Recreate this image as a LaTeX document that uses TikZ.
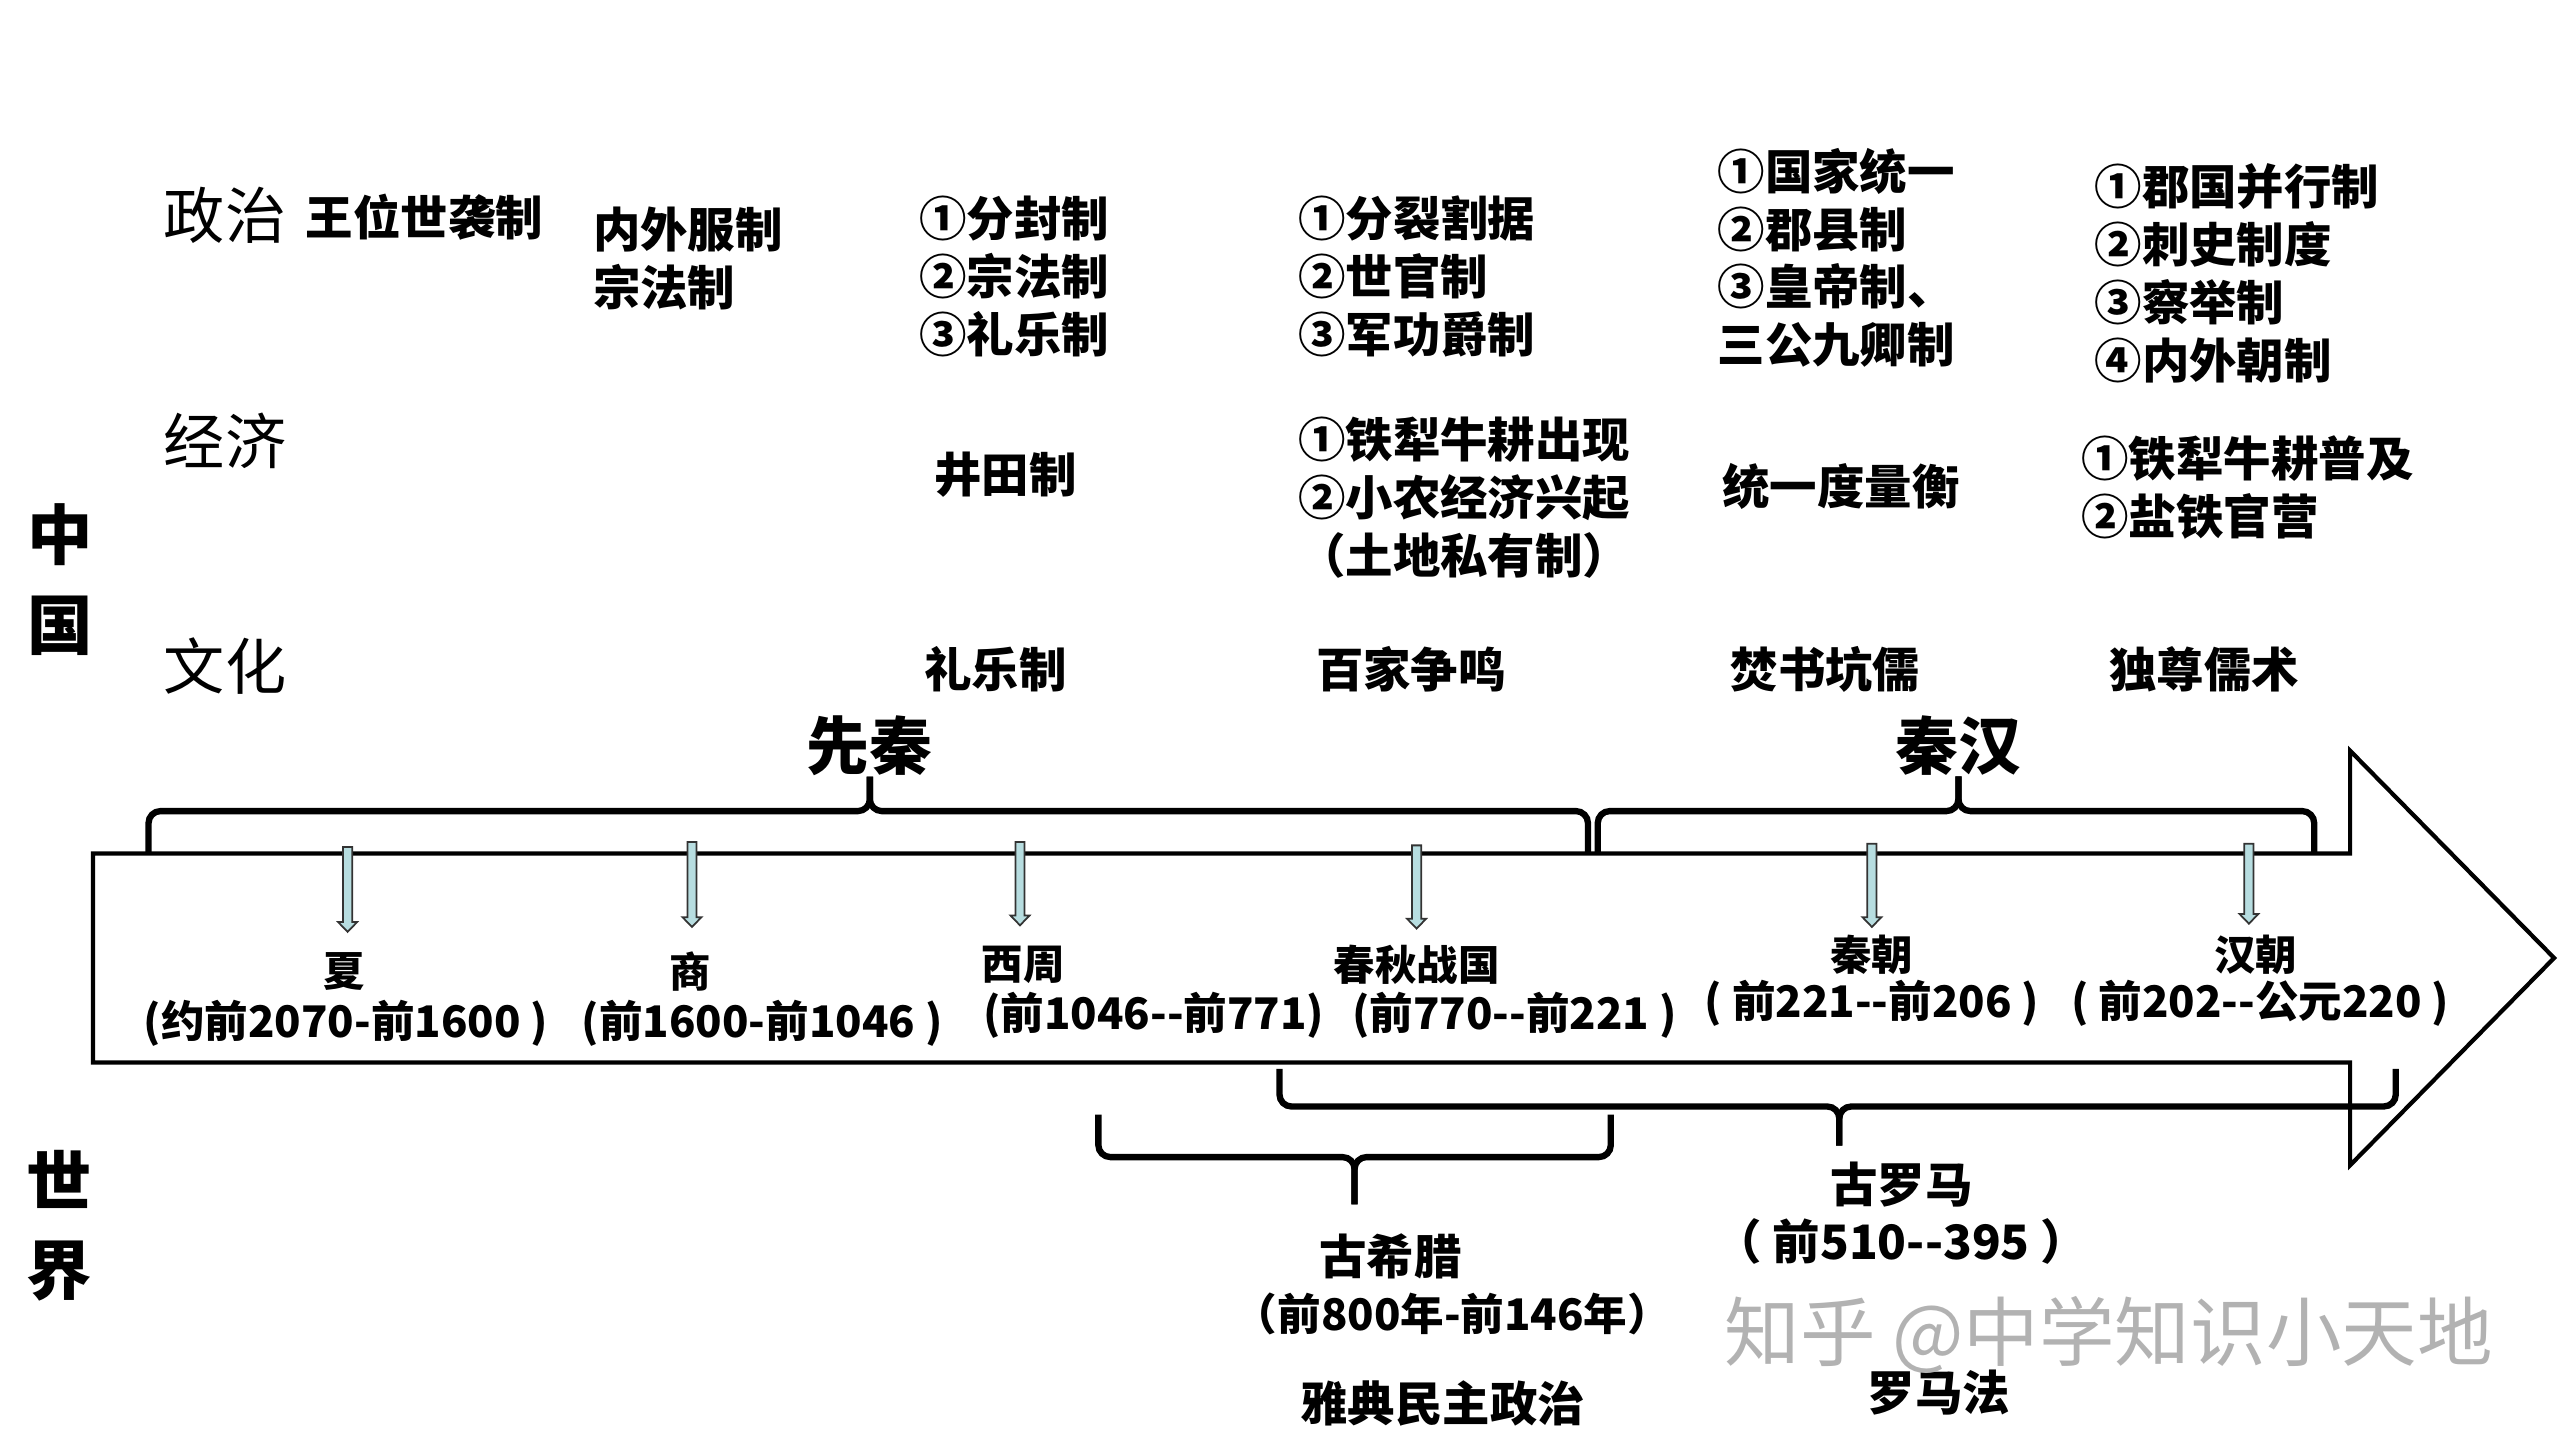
\documentclass[tikz,border=0pt]{standalone}
\usepackage{fontspec}
\setmainfont{Noto Sans CJK SC}
\usetikzlibrary{positioning}
\definecolor{pointerblue}{RGB}{183,221,224}
\newcommand{\dd}{-\kern0pt-}

\begin{document}
\begin{tikzpicture}
[x=0.01632cm, y=-0.01632cm,
 rowhead/.style={anchor=west,inner sep=0pt,font=\fontsize{17.4}{20}\selectfont},
 country/.style={inner sep=0pt,align=center,font=\fontsize{18.6}{25.5}\selectfont\bfseries},
 item/.style={anchor=west,inner sep=0pt,align=left,font=\fontsize{13.5}{16.5}\selectfont\bfseries},
 era/.style={inner sep=0pt,font=\fontsize{17.9}{20}\selectfont\bfseries},
 dynasty/.style={inner sep=0pt,font=\fontsize{11.8}{14}\selectfont\bfseries},
 period/.style={inner sep=0pt,font=\fontsize{12.4}{15}\selectfont\bfseries},
 world/.style={inner sep=0pt,font=\fontsize{13.5}{16}\selectfont\bfseries},
 brace/.style={line width=1.8pt,rounded corners=1.2mm},
 timeline/.style={line width=1.2pt,line join=miter},
 pointer/.style={draw=black!80,line width=0.5pt,fill=pointerblue}]

\useasboundingbox (0,0) rectangle (1568,882.35);

% rows and countries
\node (china) at (37,355) [country] {中\\国};
\node (world) at (36,751) [country] {世\\界};
\node (zhengzhi) at (100,132) [rowhead] {政治};
\node (jingji) at (100,270) [rowhead] {经济};
\node (wenhua) at (100,408) [rowhead] {文化};

% politics
\node (pol1) at (187,133) [item] {王位世袭制};
\node (pol2) at (363,158.5) [item] {内外服制\\宗法制};
\node (pol3) at (563,169.5) [item] {①分封制\\②宗法制\\③礼乐制};
\node (pol4) at (795,169.5) [item] {①分裂割据\\②世官制\\③军功爵制};
\node (pol5) at (1052,158) [item] {①国家统一\\②郡县制\\③皇帝制、\\三公九卿制};
\node (pol6) at (1283,167.5) [item] {①郡国并行制\\②刺史制度\\③察举制\\④内外朝制};

% economy
\node (eco3) at (572,291) [item] {井田制};
\node (eco4) at (795,305) [item] {①铁犁牛耕出现\\②小农经济兴起\\（土地私有制）};
\node (eco5) at (1055,298) [item] {统一度量衡};
\node (eco6) at (1275,298.5) [item] {①铁犁牛耕普及\\②盐铁官营};

% culture
\node (cul3) at (566,410) [item] {礼乐制};
\node (cul4) at (806,410) [item] {百家争鸣};
\node (cul5) at (1060,410) [item] {焚书坑儒};
\node (cul6) at (1292,410) [item] {独尊儒术};

% time line
\draw[timeline] (57,523) -- (1440,523) -- (1440,460) -- (1565,587)
	-- (1440,714) -- (1440,651) -- (57,651) -- cycle;

\foreach \x/\t/\b in {213/519/571, 424/516/568, 625/516/567, 868/518/569, 1147/517/568, 1378/517/566}
	\draw[pointer] (\x-2.8,\t) -- (\x+2.8,\t) -- (\x+2.8,\b-6) -- (\x+5.8,\b-6)
		-- (\x,\b) -- (\x-5.8,\b-6) -- (\x-2.8,\b-6) -- cycle;

\node (xia) at (211,595) [dynasty] {夏};
\node (xiadate) at (212,627) [period] {(约前2070-前1600 )};
\node (shang) at (423,595) [dynasty] {商};
\node (shangdate) at (467,627) [period] {(前1600-前1046 )};
\node (xizhou) at (627,591) [dynasty] {西周};
\node (xizhoudate) at (707,622) [period] {(前1046\dd 前771)};
\node (chunqiu) at (868,591) [dynasty] {春秋战国};
\node (chunqiudate) at (928,622) [period] {(前770\dd 前221 )};
\node (qin) at (1147,585) [dynasty] {秦朝};
\node (qindate) at (1147,615) [period] {( 前221\dd 前206 )};
\node (han) at (1382,585) [dynasty] {汉朝};
\node (handate) at (1385,615) [period] {( 前202\dd 公元220 )};

% eras
\node (xianqin) at (533,457) [era] {先秦};
\node (qinhan) at (1200,457) [era] {秦汉};
\draw[brace] (91,523) |- (533,497) -- (xianqin.south);
\draw[brace] (973,523) |- (533,497) -- (xianqin.south);
\draw[brace] (979,523) |- (1200,497) -- (qinhan.south);
\draw[brace] (1418,523) |- (1200,497) -- (qinhan.south);

% world
\draw[brace] (784,655) |- (1127,678) -- (1127,702);
\draw[brace] (1468,655) |- (1127,678) -- (1127,702);
\draw[brace] (673,683) |- (830,709) -- (830,738);
\draw[brace] (987,683) |- (830,709) -- (830,738);

\node (luoma) at (1165,726) [world] {古罗马};
\node (luomadate) at (1165,761) [world] {（ 前510\dd 395 ）};
\node (luomafa) at (1188,853) [world] {罗马法};
\node (xila) at (852,770) [world] {古希腊};
\node (xiladate) at (890,805) [period] {（前800年-前146年）};
\node (yadian) at (884,860) [world] {雅典民主政治};

\node (mark) at (1292,818) [inner sep=0pt,text=black!30,font=\fontsize{21.5}{24}\selectfont] {知乎 @中学知识小天地};
\end{tikzpicture}
\end{document}
